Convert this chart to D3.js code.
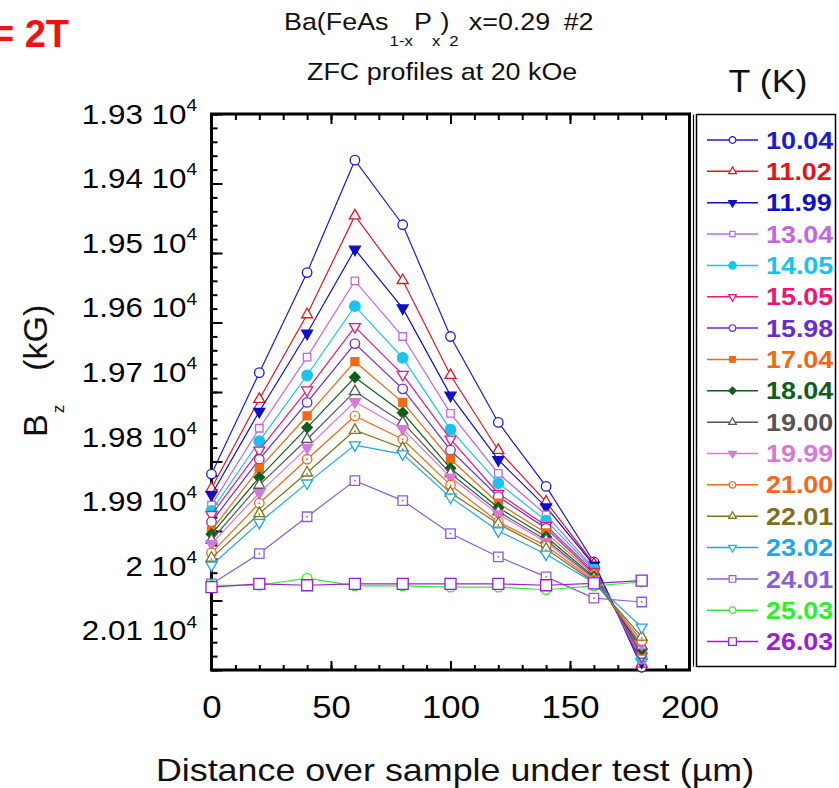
<!DOCTYPE html>
<html>
<head>
<meta charset="utf-8">
<script src="https://cdn.jsdelivr.net/npm/d3@7"></script>
<style>
  body { margin: 0; background: #fff; }
  svg { display: block; font-family: "Liberation Sans", Arial, Helvetica, sans-serif; }
</style>
</head>
<body>
<svg id="chart" width="839" height="788"></svg>
<script>
// Scan positions along the sample (µm)
const positions = [0, 20, 40, 60, 80, 100, 120, 140, 160, 180];

// Temperatures of the ZFC runs (K)
const temperatures = ["10.04", "11.02", "11.99", "13.04", "14.05", "15.05", "15.98", "17.04",
  "18.04", "19.00", "19.99", "21.00", "22.01", "23.02", "24.01", "25.03", "26.03"];

// Bz profiles (G), one array per temperature
const bz_10_04 = [19859, 19702, 19547, 19373, 19473, 19646, 19779, 19878, 19995, 20158];
const bz_11_02 = [19881, 19743, 19612, 19459, 19559, 19706, 19822, 19902, 19998, 20153];
const bz_11_99 = [19891, 19762, 19641, 19511, 19602, 19737, 19837, 19910, 20000, 20150];
const bz_13_04 = [19907, 19788, 19678, 19560, 19646, 19765, 19858, 19922, 20005, 20147];
const bz_14_05 = [19916, 19808, 19706, 19599, 19679, 19790, 19873, 19931, 20007, 20144];
const bz_15_05 = [19922, 19822, 19729, 19631, 19705, 19805, 19889, 19939, 20010, 20141];
const bz_15_98 = [19933, 19836, 19748, 19657, 19727, 19822, 19894, 19943, 20013, 20137];
const bz_17_04 = [19946, 19850, 19769, 19685, 19748, 19836, 19904, 19950, 20015, 20133];
const bz_18_04 = [19952, 19864, 19787, 19709, 19764, 19850, 19911, 19956, 20018, 20130];
const bz_19_00 = [19961, 19876, 19805, 19731, 19779, 19858, 19917, 19961, 20020, 20125];
const bz_19_99 = [19967, 19888, 19818, 19747, 19789, 19864, 19921, 19964, 20022, 20122];
const bz_21_00 = [19981, 19904, 19836, 19769, 19805, 19876, 19933, 19970, 20024, 20117];
const bz_22_01 = [19989, 19920, 19857, 19791, 19819, 19888, 19936, 19975, 20026, 20111];
const bz_23_02 = [20000, 19934, 19873, 19814, 19828, 19895, 19947, 19983, 20027, 20096];
const bz_24_01 = [20029, 19982, 19925, 19869, 19900, 19951, 19987, 20018, 20051, 20057];
const bz_25_03 = [20031, 20031, 20020, 20032, 20032, 20034, 20034, 20038, 20032, 20026];
const bz_26_03 = [20034, 20029, 20031, 20029, 20029, 20029, 20029, 20031, 20028, 20024];

const profiles = [bz_10_04, bz_11_02, bz_11_99, bz_13_04, bz_14_05, bz_15_05, bz_15_98, bz_17_04,
  bz_18_04, bz_19_00, bz_19_99, bz_21_00, bz_22_01, bz_23_02, bz_24_01, bz_25_03, bz_26_03];

// Axis tick values
const xTickLabels = [0, 50, 100, 150, 200];
const yTickLabels = [19300, 19400, 19500, 19600, 19700, 19800, 19900, 20000, 20100];

// Styling per series: colour, marker shape, fill, marker size (px)
const seriesColors = ["#1a1ad6", "#e3141b", "#0f0fc8", "#c466e0", "#19c3f0", "#f0166e", "#6a2ad4", "#f06a14",
  "#0e5e1c", "#555555", "#d678dc", "#f56818", "#80701c", "#1ea6ee", "#8a5ce0", "#2ef02a", "#9a1ed8"];
const seriesMarkers = [
  { shape: "circle", filled: false, size: 9.5 },
  { shape: "triUp", filled: false, size: 11 },
  { shape: "triDown", filled: true, size: 11 },
  { shape: "square", filled: false, size: 7.5 },
  { shape: "circle", filled: true, size: 10.5 },
  { shape: "triDown", filled: false, size: 11 },
  { shape: "circle", filled: false, size: 9.5 },
  { shape: "square", filled: true, size: 8 },
  { shape: "diamond", filled: true, size: 10.5 },
  { shape: "triUp", filled: false, size: 11 },
  { shape: "triDown", filled: true, size: 11 },
  { shape: "circle", filled: false, size: 9.5, dot: true },
  { shape: "triUp", filled: false, size: 11, dot: true },
  { shape: "triDown", filled: false, size: 11 },
  { shape: "square", filled: false, size: 9.5, dot: true },
  { shape: "circle", filled: false, size: 9.5 },
  { shape: "square", filled: false, size: 11 }
];

const STRETCH = 1.12; // text is drawn slightly wide
const svg = d3.select("#chart");
const frame = { left: 211.5, top: 114, right: 689.5, bottom: 670 };
const plotW = frame.right - frame.left;
const plotH = frame.bottom - frame.top;

const x = d3.scaleLinear().domain([0, 200]).range([0, plotW]);
// Field axis runs downward: 1.93e4 at the top
const y = d3.scaleLinear().domain([19300, 20100]).range([-1, 515.8]);
// The frame's own tick rhythm: eight major divisions, five minor each
const bands = d3.scaleLinear().domain([0, 8]).range([0, plotH]);

function stretchedText(parent, px, py, size, anchor) {
  return parent.append("text")
    .attr("transform", `translate(${px},${py}) scale(${STRETCH},1)`)
    .attr("font-size", size)
    .attr("text-anchor", anchor || "start");
}

function symbolPath(m, scale) {
  const d = m.size * scale;
  let type, area;
  if (m.shape === "circle") { type = d3.symbolCircle; area = Math.PI * d * d / 4; }
  else if (m.shape === "square") { type = d3.symbolSquare; area = d * d; }
  else if (m.shape === "diamond") { type = d3.symbolSquare; area = d * d / 2; }
  else { type = d3.symbolTriangle; area = Math.sqrt(3) / 4 * d * d; }
  return d3.symbol().type(type).size(area)();
}
function symbolRotation(m) {
  if (m.shape === "triDown") return 180;
  if (m.shape === "diamond") return 45;
  return 0;
}
function drawMarker(parent, m, color, px, py, scale, sw) {
  const g = parent.append("g").attr("transform", `translate(${px},${py})`);
  g.append("path")
    .attr("d", symbolPath(m, scale))
    .attr("transform", `rotate(${symbolRotation(m)})`)
    .attr("fill", m.filled ? color : "#fff")
    .attr("stroke", color)
    .attr("stroke-width", sw);
  if (m.dot) {
    g.append("circle").attr("r", 0.9 * scale).attr("cy", m.shape === "triUp" ? 1 : 0).attr("fill", color);
  }
}

// ---- Top-left field tag
svg.append("text")
  .attr("x", 69).attr("y", 47)
  .attr("text-anchor", "end")
  .attr("font-size", 38).attr("font-weight", "bold")
  .attr("fill", "#f21010")
  .text("= 2T");

// ---- Titles
const t1 = stretchedText(svg, 284, 30, 24, "start").attr("fill", "#111");
t1.append("tspan").text("Ba(FeAs");
t1.append("tspan").attr("font-size", 15).attr("dy", 16).attr("dx", 1).text("1-x");
t1.append("tspan").attr("dy", -16).attr("dx", 1).text("P");
t1.append("tspan").attr("font-size", 15).attr("dy", 16).text("x");
t1.append("tspan").attr("dy", -16).text(")");
t1.append("tspan").attr("font-size", 15).attr("dy", 16).text("2");
t1.append("tspan").attr("dy", -16).attr("dx", 9).text("x=0.29");
t1.append("tspan").attr("dx", 12).text("#2");

stretchedText(svg, 307, 80, 24, "start").attr("fill", "#111").text("ZFC profiles at 20 kOe");

// ---- Plot frame and ticks
const plot = svg.append("g").attr("transform", `translate(${frame.left},${frame.top})`);
plot.append("rect").attr("width", plotW).attr("height", plotH).attr("fill", "#fff");

function tickAxis(axis, tf) {
  const g = plot.append("g").attr("transform", tf || null).call(axis);
  g.select(".domain").remove();
  g.selectAll(".tick line").attr("stroke", "#000").attr("stroke-width", 2);
  g.selectAll(".tick text").remove();
  return g;
}
const minorX = d3.range(0, 201, 10);
const majorX = d3.range(0, 201, 50);
const minorY = d3.range(0, 8.001, 0.2);
const majorY = d3.range(0, 9, 1);
tickAxis(d3.axisTop(x).tickValues(minorX).tickSize(-6));
tickAxis(d3.axisTop(x).tickValues(majorX).tickSize(-10));
tickAxis(d3.axisBottom(x).tickValues(minorX).tickSize(-5), `translate(0,${plotH})`);
tickAxis(d3.axisBottom(x).tickValues(majorX).tickSize(-9), `translate(0,${plotH})`);
tickAxis(d3.axisLeft(bands).tickValues(minorY).tickSize(-6));
tickAxis(d3.axisLeft(bands).tickValues(majorY).tickSize(-11));

plot.append("rect").attr("width", plotW).attr("height", plotH)
  .attr("fill", "none").attr("stroke", "#000").attr("stroke-width", 3);

// ---- Tick labels
const xLab = plot.append("g").attr("transform", `translate(0,${plotH})`)
  .call(d3.axisBottom(x).tickValues(xTickLabels).tickSize(0));
xLab.select(".domain").remove();
xLab.attr("font-size", 31).attr("font-family", null);
xLab.selectAll(".tick text")
  .attr("y", null).attr("dy", null).attr("fill", "#000")
  .attr("transform", `translate(0,48) scale(${STRETCH},1)`);

const yLab = plot.append("g")
  .call(d3.axisLeft(y).tickValues(yTickLabels).tickSize(0).tickFormat(v => String(+(v / 1e4).toFixed(2))));
yLab.select(".domain").remove();
yLab.attr("font-size", 28).attr("font-family", null);
yLab.selectAll(".tick text").each(function () {
  const t = d3.select(this);
  const mant = t.text();
  t.text(null)
    .attr("x", null).attr("dy", "0.36em").attr("fill", "#000")
    .attr("transform", `translate(-14.5,0) scale(${STRETCH},1)`);
  t.append("tspan").text(mant + " 10");
  t.append("tspan").attr("font-size", 17).attr("dy", "-0.75em").text("4");
});

// ---- Profiles
const line = d3.line().x((d, i) => x(positions[i])).y(d => y(d));
profiles.forEach((vals, k) => {
  const g = plot.append("g");
  g.append("path").attr("d", line(vals))
    .attr("fill", "none").attr("stroke", seriesColors[k]).attr("stroke-width", 1.2);
  vals.forEach((v, i) => drawMarker(g, seriesMarkers[k], seriesColors[k], x(positions[i]), y(v), 1, 1.3));
});

// ---- Axis titles
stretchedText(svg, 455, 781, 32, "middle").attr("fill", "#111")
  .text("Distance over sample under test (\u00b5m)");

const yt = svg.append("text")
  .attr("transform", "translate(47,437) rotate(-90)")
  .attr("font-size", 34).attr("fill", "#111");
yt.append("tspan").text("B");
yt.append("tspan").attr("font-size", 17).attr("dy", 17).attr("dx", 1).text("z");
yt.append("tspan").attr("dy", -17).attr("dx", 34).text("(kG)");

// ---- Legend
stretchedText(svg, 768, 92, 32, "middle").attr("fill", "#111").text("T (K)");
svg.append("rect").attr("x", 696.5).attr("y", 114.5).attr("width", 139).attr("height", 552)
  .attr("fill", "#fff").attr("stroke", "#000").attr("stroke-width", 1.5);
svg.append("line").attr("x1", 693.5).attr("x2", 693.5).attr("y1", 114.5).attr("y2", 666.5)
  .attr("stroke", "#000").attr("stroke-width", 1.2);

const legendTop = 140, legendStep = 31.35;
temperatures.forEach((label, k) => {
  const ly = legendTop + k * legendStep;
  const g = svg.append("g");
  g.append("line").attr("x1", 707).attr("x2", 758).attr("y1", ly).attr("y2", ly)
    .attr("stroke", seriesColors[k]).attr("stroke-width", 1.5);
  drawMarker(g, seriesMarkers[k], seriesColors[k], 732.5, ly, 0.7, 1.2);
  stretchedText(g, 766, ly + 8.6, 24, "start")
    .attr("font-weight", "bold").attr("fill", seriesColors[k]).text(label);
});
</script>
</body>
</html>
